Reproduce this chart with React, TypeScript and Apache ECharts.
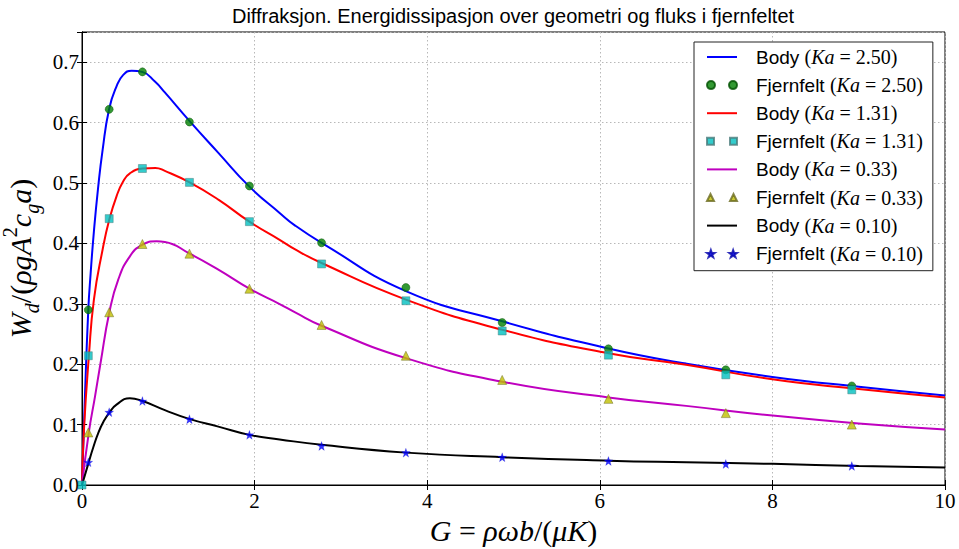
import React, { useEffect, useRef } from 'react';
import * as echarts from 'echarts';

const chartTitle = 'Diffraksjon. Energidissipasjon over geometri og fluks i fjernfeltet';
const kaValues = ['2.50', '1.31', '0.33', '0.10'];
const xTicks = { min: 0, max: 10, interval: 2 };
const yTicks = { min: 0, max: 0.75, interval: 0.1 };

// Body curves (G, W_d)
const bodyG250 = [0, 0.03, 0.073, 0.1, 0.138, 0.185, 0.239, 0.315, 0.4, 0.478, 0.575, 0.698, 0.845, 0.96, 1.247, 1.58, 1.94, 2.29, 2.47, 2.776, 3.753, 4.87, 6.1, 7.0, 8.0, 9.0, 10.0];
const bodyW250 = [0, 0.13, 0.29, 0.35, 0.42, 0.49, 0.555, 0.623, 0.66, 0.679, 0.686, 0.684, 0.668, 0.65, 0.6025, 0.55, 0.494, 0.4505, 0.4295, 0.401, 0.321, 0.271, 0.226, 0.201, 0.179, 0.1625, 0.148];

const bodyG131 = [0, 0.022, 0.08, 0.138, 0.239, 0.317, 0.4, 0.478, 0.555, 0.7, 0.85, 0.96, 1.247, 1.58, 1.94, 2.29, 2.47, 2.776, 3.753, 4.87, 6.1, 7.0, 8.0, 9.0, 10.0];
const bodyW131 = [0, 0.09, 0.214, 0.307, 0.39, 0.44, 0.478, 0.503, 0.516, 0.524, 0.525, 0.52, 0.501, 0.4726, 0.436, 0.406, 0.39, 0.3675, 0.307, 0.257, 0.218, 0.199, 0.175, 0.159, 0.145];

const bodyG033 = [0, 0.08, 0.15, 0.215, 0.317, 0.42, 0.555, 0.702, 0.864, 0.96, 1.247, 1.58, 1.94, 2.29, 2.47, 2.776, 3.753, 4.87, 6.1, 7.0, 8.0, 9.0, 10.0];
const bodyW033 = [0, 0.088, 0.146, 0.202, 0.286, 0.34, 0.3786, 0.398, 0.4035, 0.4025, 0.383, 0.3565, 0.325, 0.2996, 0.2857, 0.2637, 0.21, 0.171, 0.145, 0.131, 0.115, 0.102, 0.092];

const bodyG010 = [0, 0.08, 0.13, 0.188, 0.25, 0.317, 0.4, 0.555, 0.702, 0.96, 1.24, 1.58, 1.94, 2.29, 2.776, 3.753, 4.87, 6.1, 7.0, 8.0, 9.0, 10.0];
const bodyW010 = [0, 0.0387, 0.062, 0.086, 0.105, 0.12, 0.133, 0.1438, 0.139, 0.124, 0.1095, 0.0967, 0.083, 0.0755, 0.0665, 0.0536, 0.046, 0.0403, 0.0376, 0.035, 0.0315, 0.029];

// Far-field (Fjernfelt) points
const ffG = [0.073, 0.315, 0.70, 1.245, 1.94, 2.776, 3.753, 4.869, 6.10, 7.46, 8.92];
const ffG131 = [0, 0.073, 0.315, 0.70, 1.245, 1.94, 2.776, 3.753, 4.869, 6.10, 7.46, 8.92];
const ffW250 = [0.290, 0.622, 0.684, 0.601, 0.495, 0.401, 0.327, 0.269, 0.2255, 0.1907, 0.164];
const ffW131 = [0, 0.214, 0.441, 0.524, 0.501, 0.436, 0.366, 0.305, 0.255, 0.215, 0.1824, 0.1575];
const ffW033 = [0.087, 0.286, 0.399, 0.383, 0.325, 0.265, 0.214, 0.174, 0.1426, 0.119, 0.100];
const ffW010 = [0.0376, 0.1205, 0.139, 0.109, 0.083, 0.0647, 0.0536, 0.046, 0.0398, 0.0348, 0.0315];

const zip = (xs: number[], ys: number[]) => xs.map((x, i) => [x, ys[i]]);

function starPts(cx: number, cy: number, R: number, r: number) {
  const pts: string[] = [];
  for (let k = 0; k < 10; k++) {
    const a = (-90 + k * 36) * Math.PI / 180;
    const rad = k % 2 === 0 ? R : r;
    pts.push(`${(cx + rad * Math.cos(a)).toFixed(3)},${(cy + rad * Math.sin(a)).toFixed(3)}`);
  }
  return 'M' + pts.join('L') + 'Z';
}
const starSymbol = 'path://' + starPts(10, 10, 10, 4);
const iconLine = 'path://M0,0H30V2H0Z';
const iconCircles = 'path://M0,4a4,4 0 1,0 8,0a4,4 0 1,0 -8,0ZM22,4a4,4 0 1,0 8,0a4,4 0 1,0 -8,0Z';
const iconSquares = 'path://M0,0.5H7V7.5H0ZM23,0.5H30V7.5H23Z';
const iconTriangles = 'path://M0,7.5L3.5,0.5L7,7.5ZM23,7.5L26.5,0.5L30,7.5Z';
const iconStars = 'path://' + starPts(4, 4, 4, 1.6) + starPts(26, 4, 4, 1.6);

const bodyName = (ka: string) => `Body (Ka = ${ka})`;
const ffName = (ka: string) => `Fjernfelt (Ka = ${ka})`;

const MATH = '"Liberation Serif", "DejaVu Serif", serif';
const SANS = '"Liberation Sans", Arial, sans-serif';

export default function App() {
  const ref = useRef<HTMLDivElement>(null);
  useEffect(() => {
    const chart = echarts.init(ref.current!, null, { renderer: 'svg' });
    const lineSeries = (name: string, data: number[][], color: string) => ({
      type: 'line', name, data, symbol: 'none', showSymbol: false, smooth: 0.5,
      lineStyle: { color, width: 2 }, itemStyle: { color }, z: 2,
    });
    const scatter = (name: string, data: number[][], color: string, symbol: string, size: number, border: string, bw: number) => ({
      type: 'scatter', name, data, symbol, symbolSize: size,
      itemStyle: { color, borderColor: border, borderWidth: bw }, z: 3,
    });
    const option: any = {
      animation: false,
      backgroundColor: '#fff',
      title: {
        text: chartTitle, left: 513, top: 6, textAlign: 'center', padding: 0,
        textStyle: { fontFamily: SANS, fontSize: 20, fontWeight: 'normal', color: '#000' },
      },
      grid: {
        left: 82, right: 14, top: 32, bottom: 64, show: true, borderColor: '#000', borderWidth: 1,
        containLabel: false, outerBoundsMode: 'none',
      },
      legend: {
        orient: 'vertical', left: 694, top: 42,
        padding: [5, 10, 7, 12],
        itemWidth: 30, itemHeight: 8, itemGap: 8.1,
        backgroundColor: '#fff', borderColor: '#222', borderWidth: 1,
        data: [
          { name: bodyName(kaValues[0]), icon: iconLine }, { name: ffName(kaValues[0]), icon: iconCircles },
          { name: bodyName(kaValues[1]), icon: iconLine }, { name: ffName(kaValues[1]), icon: iconSquares },
          { name: bodyName(kaValues[2]), icon: iconLine }, { name: ffName(kaValues[2]), icon: iconTriangles },
          { name: bodyName(kaValues[3]), icon: iconLine }, { name: ffName(kaValues[3]), icon: iconStars },
        ],
        formatter: (name: string) => {
          const m = name.match(/^(\S+) \(Ka = ([\d.]+)\)$/);
          if (!m) return name;
          return `{s|${m[1]} }{p|(}{i|Ka}{p| = ${m[2]})}`;
        },
        textStyle: {
          padding: [0, 0, 0, 14],
          rich: {
            s: { fontFamily: SANS, fontSize: 19, color: '#000', lineHeight: 20 },
            p: { fontFamily: MATH, fontSize: 20, color: '#000', lineHeight: 20 },
            i: { fontFamily: MATH, fontSize: 20, fontStyle: 'italic', color: '#000', lineHeight: 20 },
          },
        },
      },
      xAxis: [
        {
          type: 'value', min: xTicks.min, max: xTicks.max, interval: xTicks.interval,
          name: '{i|G}{r| = }{i|ρωb}{r|/(}{i|μK}{r|)}',
          nameLocation: 'middle', nameGap: 20,
          nameTextStyle: {
            rich: {
              i: { fontFamily: MATH, fontStyle: 'italic', fontSize: 30, color: '#000', lineHeight: 38 },
              r: { fontFamily: MATH, fontSize: 30, color: '#000', lineHeight: 38 },
            },
          },
          axisLine: { show: true, lineStyle: { color: '#000', width: 1 } },
          axisTick: { show: true, inside: true, length: 5, lineStyle: { color: '#000' } },
          axisLabel: { color: '#000', fontFamily: MATH, fontSize: 21, margin: 5 },
          splitLine: { show: true, lineStyle: { color: '#b8b8b8', width: 1, type: [1.5, 2.5] } },
        },
        {
          type: 'value', position: 'top', min: xTicks.min, max: xTicks.max, interval: xTicks.interval,
          axisLine: { show: true, lineStyle: { color: '#000', width: 1 } },
          axisTick: { show: true, inside: true, length: 5, lineStyle: { color: '#000' } },
          axisLabel: { show: false }, splitLine: { show: false },
        },
      ],
      yAxis: [
        {
          type: 'value', min: yTicks.min, max: yTicks.max, interval: yTicks.interval,
          name: '{i|W}{sub|d}{r|/(}{i|ρgA}{sup|2}{i|c}{sub|g}{i|a}{r|)}',
          nameLocation: 'middle', nameRotate: 90, nameGap: 32,
          nameTextStyle: {
            rich: {
              i: { fontFamily: MATH, fontStyle: 'italic', fontSize: 30, color: '#000', lineHeight: 42 },
              r: { fontFamily: MATH, fontSize: 30, color: '#000', lineHeight: 42 },
              sub: { fontFamily: MATH, fontStyle: 'italic', fontSize: 20, color: '#000', lineHeight: 20, verticalAlign: 'bottom' },
              sup: { fontFamily: MATH, fontSize: 20, color: '#000', lineHeight: 22, verticalAlign: 'top' },
            },
          },
          axisLine: { show: true, lineStyle: { color: '#000', width: 1 } },
          axisTick: { show: true, inside: true, length: 5, lineStyle: { color: '#000' } },
          axisLabel: {
            color: '#000', fontFamily: MATH, fontSize: 21, margin: 3,
            formatter: (v: number) => (Math.abs(v - yTicks.max) < 1e-9 ? '' : v.toFixed(1)),
          },
          splitLine: { show: true, lineStyle: { color: '#b8b8b8', width: 1, type: [1.5, 2.5] } },
        },
        {
          type: 'value', position: 'right', min: yTicks.min, max: yTicks.max, interval: yTicks.interval,
          axisLine: { show: true, lineStyle: { color: '#000', width: 1 } },
          axisTick: { show: true, inside: true, length: 5, lineStyle: { color: '#000' } },
          axisLabel: { show: false }, splitLine: { show: false },
        },
      ],
      series: [
        lineSeries(bodyName(kaValues[0]), zip(bodyG250, bodyW250), '#0000ff'),
        scatter(ffName(kaValues[0]), zip(ffG, ffW250), '#008000', 'circle', 8, '#005000', 0.6),
        lineSeries(bodyName(kaValues[1]), zip(bodyG131, bodyW131), '#ff0000'),
        scatter(ffName(kaValues[1]), zip(ffG131, ffW131), '#00bfbf', 'rect', 8, '#4a7a7a', 0.6),
        lineSeries(bodyName(kaValues[2]), zip(bodyG033, bodyW033), '#bf00bf'),
        scatter(ffName(kaValues[2]), zip(ffG, ffW033), '#bfbf00', 'triangle', 9, '#6a6a20', 0.6),
        lineSeries(bodyName(kaValues[3]), zip(bodyG010, bodyW010), '#000000'),
        scatter(ffName(kaValues[3]), zip(ffG, ffW010), '#0000ff', starSymbol, 9, '#0000aa', 0.2),
      ],
    };
    chart.setOption(option);
    return () => chart.dispose();
  }, []);
  return (
    <div
      ref={ref}
      style={{ position: 'fixed', left: 0, top: 0, width: 959, height: 549, background: '#fff' }}
    />
  );
}
